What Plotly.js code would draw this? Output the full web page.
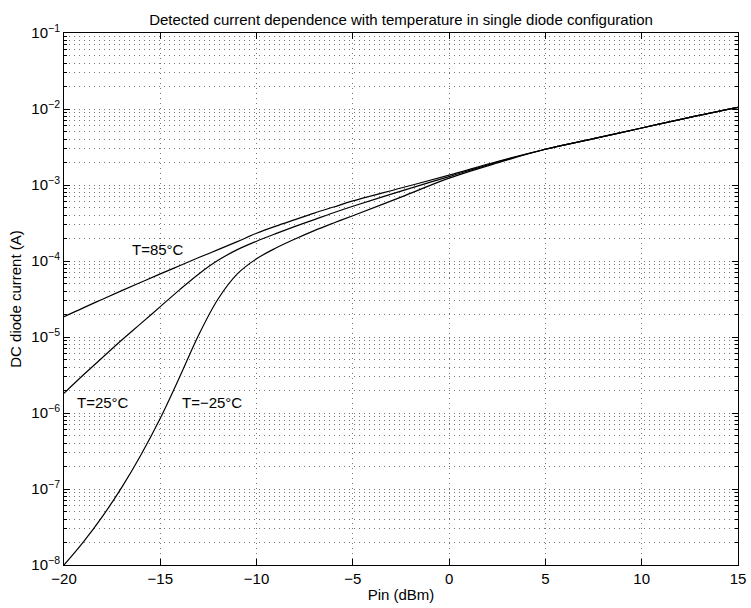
<!DOCTYPE html>
<html>
<head>
<meta charset="utf-8">
<script src="https://cdn.plot.ly/plotly-3.0.1.min.js"></script>
<style>html,body{margin:0;padding:0;background:#fff;}#chart{width:751px;height:608px;}</style>
</head>
<body>
<div id="chart"></div>
<script>
// Input power (dBm)
const pin = [-20,-19,-18,-17,-16,-15,-14,-13,-12,-11,-10,-9,-8,-7,-6,-5,-2.5,0,2.5,5,7.5,10,12.5,15];
// DC diode current (A)
const current85 = [1.85e-5,2.42e-5,3.14e-5,4.07e-5,5.26e-5,6.76e-5,8.67e-5,1.11e-4,1.41e-4,1.80e-4,2.32e-4,2.88e-4,3.51e-4,4.27e-4,5.13e-4,6.17e-4,9.12e-4,1.35e-3,2.04e-3,2.95e-3,4.07e-3,5.62e-3,7.76e-3,1.05e-2];
const current25 = [1.82e-6,3.16e-6,5.37e-6,9.12e-6,1.51e-5,2.51e-5,4.17e-5,6.76e-5,1.02e-4,1.41e-4,1.82e-4,2.29e-4,2.85e-4,3.51e-4,4.32e-4,5.25e-4,8.32e-4,1.29e-3,2.00e-3,2.95e-3,4.07e-3,5.62e-3,7.76e-3,1.05e-2];
const currentM25 = [1.0e-8,2.0e-8,4.37e-8,1.05e-7,2.82e-7,8.51e-7,2.95e-6,1.07e-5,3.16e-5,6.76e-5,1.07e-4,1.48e-4,1.95e-4,2.51e-4,3.16e-4,3.94e-4,6.92e-4,1.23e-3,1.95e-3,2.95e-3,4.07e-3,5.62e-3,7.76e-3,1.05e-2];
const curveLabels = ["T=85°C", "T=25°C", "T=\u221225°C"];
const xTicks = [-20,-15,-10,-5,0,5,10,15];
const xTickText = ["\u221220","\u221215","\u221210","\u22125","0","5","10","15"];
const decades = [-8,-7,-6,-5,-4,-3,-2,-1];

const yTickVals = decades.map(d => Math.pow(10, d));
const yTickText = decades.map(d => "10<sup>" + (d < 0 ? "\u2212" + (-d) : d) + "</sup>");
const minorVals = [];
decades.slice(0, -1).forEach(d => { for (let m = 2; m <= 9; m++) minorVals.push(m * Math.pow(10, d)); });

const lineStyle = {color: "#000", width: 1.2, shape: "spline", smoothing: 1};
const traces = [current85, current25, currentM25].map((ys, i) => ({
  x: pin, y: ys, type: "scatter", mode: "lines", line: lineStyle,
  name: curveLabels[i], showlegend: false, hoverinfo: "skip"
}));

const font = {family: "Liberation Sans, Arial, Helvetica, sans-serif", size: 15, color: "#000"};
const gridColor = "#777";
const gridDash = "1px,4px";

const layout = {
  width: 751, height: 608,
  margin: {l: 64, r: 13, t: 33, b: 43, pad: 0},
  paper_bgcolor: "#fff", plot_bgcolor: "#fff",
  font: font,
  showlegend: false,
  title: {text: "Detected current dependence with temperature in single diode configuration",
          font: {family: font.family, size: 15, color: "#000"},
          x: 0.5, xref: "paper", xanchor: "center", y: 1, yref: "paper", yanchor: "bottom", pad: {b: 8}},
  xaxis: {
    range: [-20, 15], tickmode: "array", tickvals: xTicks, ticktext: xTickText,
    showline: true, linecolor: "#000", linewidth: 1, mirror: "ticks",
    ticks: "inside", ticklen: 6, tickcolor: "#000",
    showgrid: true, gridcolor: gridColor, griddash: gridDash, gridwidth: 1,
    zeroline: false, tickfont: font,
    title: {text: "Pin (dBm)", font: font, standoff: 3}
  },
  yaxis: {
    type: "log", range: [-8, -1], tickmode: "array", tickvals: yTickVals, ticktext: yTickText,
    showline: true, linecolor: "#000", linewidth: 1, mirror: "ticks",
    ticks: "inside", ticklen: 6, tickcolor: "#000",
    showgrid: true, gridcolor: gridColor, griddash: gridDash, gridwidth: 1,
    zeroline: false, tickfont: font,
    minor: {tickmode: "array", tickvals: minorVals, ticks: "inside", ticklen: 3, tickcolor: "#000",
            showgrid: true, gridcolor: gridColor, griddash: gridDash, gridwidth: 1},
    title: {text: "DC diode current (A)", font: font, standoff: 6}
  },
  annotations: [
    {x: -15.12, y: -3.855, text: curveLabels[0]},
    {x: -17.975, y: -5.868, text: curveLabels[1]},
    {x: -12.32, y: -5.868, text: curveLabels[2]}
  ].map(a => Object.assign({xref: "x", yref: "y", showarrow: false, xanchor: "center", yanchor: "middle",
                            font: {family: font.family, size: 15, color: "#000"}}, a))
};

Plotly.newPlot("chart", traces, layout, {staticPlot: true, displayModeBar: false});
</script>
</body>
</html>
